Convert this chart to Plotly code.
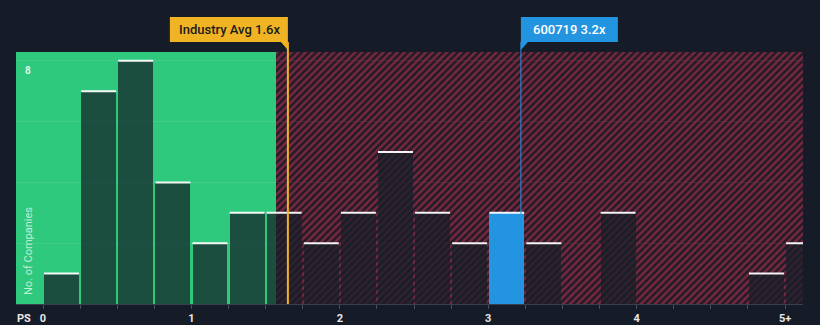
import plotly.graph_objects as go

# Price-to-sales histogram: bin left edges and number of companies per bin
bin_left = [0.0, 0.25, 0.5, 0.75, 1.0, 1.25, 1.5, 1.75, 2.0, 2.25, 2.5,
            2.75, 3.0, 3.25, 3.5, 3.75, 4.0, 4.25, 4.5, 4.75, 5.0]
counts = [1, 7, 8, 4, 2, 3, 3, 2, 3, 5, 3, 2, 3, 2, 0, 3, 0, 0, 0, 1, 2]
BIN_W = 0.25

tick_vals = [0, 1, 2, 3, 4, 5]
tick_text = ["0", "1", "2", "3", "4", "5+"]

INDUSTRY_AVG = 1.65      # industry average P/S
COMPANY = 3.22           # company P/S
COMPANY_NAME = "600719"
FAIR_EDGE = 1.57         # end of the green (below-average) zone

X_RANGE = [-0.182, 5.121]
Y_RANGE = [0, 8.29]

BG = "#161c27"
GREEN = "#2ec97d"
BAR = "rgba(22,30,40,0.72)"
BLUE = "#2394df"
GOLD = "#f0b323"

centers = [b + BIN_W / 2 for b in bin_left]
comp_bin = max(i for i, b in enumerate(bin_left) if b <= COMPANY)
bar_colors = [BLUE if i == comp_bin else BAR for i in range(len(counts))]

fig = go.Figure()

# hatched zone above the fair range, drawn as one wide background bar
hatch_right = X_RANGE[1] + 0.5
fig.add_trace(go.Bar(
    x=[(FAIR_EDGE + hatch_right) / 2], y=[Y_RANGE[1] + 1],
    width=[hatch_right - FAIR_EDGE],
    marker=dict(color="rgba(0,0,0,0)", line=dict(width=0),
                pattern=dict(shape="/", fgcolor="#77283f",
                             bgcolor="rgba(0,0,0,0)", size=5,
                             solidity=0.5, fillmode="replace")),
    hoverinfo="skip", showlegend=False,
))

fig.add_trace(go.Bar(
    x=centers, y=counts, width=BIN_W * 0.94,
    marker=dict(color=bar_colors, line=dict(width=0)),
    showlegend=False, hoverinfo="skip",
))

# white cap on each non-empty bar
cap_x = [c for c, n in zip(centers, counts) if n > 0]
cap_y = [n for n in counts if n > 0]
fig.add_trace(go.Scatter(
    x=cap_x, y=cap_y, mode="markers",
    marker=dict(symbol="line-ew", size=25,
                line=dict(color="rgba(255,255,255,0.95)", width=2)),
    showlegend=False, hoverinfo="skip",
))

shapes = [
    # green fair-value zone
    dict(type="rect", xref="x", yref="paper", x0=X_RANGE[0] - 0.2, x1=FAIR_EDGE,
         y0=0, y1=1, fillcolor=GREEN, line=dict(width=0), layer="below"),
    # industry average marker line
    dict(type="line", xref="x", x0=INDUSTRY_AVG, x1=INDUSTRY_AVG,
         yref="paper", ysizemode="pixel", yanchor=1, y0=-252, y1=10,
         line=dict(color=GOLD, width=2)),
    # company marker line
    dict(type="line", xref="x", x0=COMPANY, x1=COMPANY,
         yref="paper", ysizemode="pixel", yanchor=1, y0=-252, y1=10,
         line=dict(color=BLUE, width=1)),
    # label boxes with pointers
    dict(type="rect", xref="x", xsizemode="pixel", xanchor=INDUSTRY_AVG,
         x0=-118, x1=0, yref="paper", ysizemode="pixel", yanchor=1,
         y0=10, y1=35, fillcolor=GOLD, line=dict(width=0)),
    dict(type="path", xref="x", xsizemode="pixel", xanchor=INDUSTRY_AVG,
         yref="paper", ysizemode="pixel", yanchor=1,
         path="M -7,10 L 0,10 L 0,2 Z", fillcolor=GOLD, line=dict(width=0)),
    dict(type="rect", xref="x", xsizemode="pixel", xanchor=COMPANY,
         x0=0, x1=97, yref="paper", ysizemode="pixel", yanchor=1,
         y0=10, y1=35, fillcolor=BLUE, line=dict(width=0)),
    dict(type="path", xref="x", xsizemode="pixel", xanchor=COMPANY,
         yref="paper", ysizemode="pixel", yanchor=1,
         path="M 0,10 L 7,10 L 0,2 Z", fillcolor=BLUE, line=dict(width=0)),
]

annotations = [
    dict(text=f"Industry Avg {INDUSTRY_AVG:.1f}x", xref="x", x=INDUSTRY_AVG,
         xanchor="left", xshift=-111, yref="paper", y=1, yanchor="middle",
         yshift=22.5, showarrow=False,
         font=dict(family="Roboto", size=13, color="#1b1b1b", weight=500)),
    dict(text=f"{COMPANY_NAME} {COMPANY:.1f}x", xref="x", x=COMPANY,
         xanchor="left", xshift=10, yref="paper", y=1, yanchor="middle",
         yshift=22.5, showarrow=False,
         font=dict(family="Roboto", size=13, color="#ffffff", weight=500)),
    dict(text="8", xref="paper", x=0, xshift=12, xanchor="center",
         yref="y", y=8, yanchor="top", yshift=-2, showarrow=False,
         font=dict(family="Roboto", size=10, color="rgba(255,255,255,0.85)",
                   weight="bold")),
    dict(text="No. of Companies", xref="paper", x=0, xshift=12,
         xanchor="center", yref="paper", y=0.21, yanchor="middle",
         textangle=-90, showarrow=False,
         font=dict(family="Roboto", size=11, color="rgba(255,255,255,0.7)")),
    dict(text="PS", xref="paper", x=0, xshift=8, xanchor="center",
         yref="paper", y=0, yshift=-14, yanchor="middle", showarrow=False,
         font=dict(family="Roboto", size=11, color="#e8e8e8", weight="bold")),
]

fig.update_layout(
    width=820, height=325,
    margin=dict(l=16, r=17, t=52, b=21),
    paper_bgcolor=BG, plot_bgcolor="#211b27",
    barmode="overlay", bargap=0, shapes=shapes, annotations=annotations,
    xaxis=dict(range=X_RANGE, tickvals=tick_vals, ticktext=tick_text,
               automargin=False,
               showgrid=False, zeroline=False, showline=True,
               linecolor="#3a404d", linewidth=1,
               ticks="outside", ticklen=4, tickcolor="#4a5060",
               ticklabelstandoff=0,
               minor=dict(tick0=0, dtick=BIN_W, ticks="outside", ticklen=4,
                          tickcolor="#4a5060"),
               tickfont=dict(family="Roboto", size=11, color="#e8e8e8",
                             weight="bold")),
    yaxis=dict(range=Y_RANGE, dtick=2, showticklabels=False, automargin=False,
               gridcolor="rgba(255,255,255,0.09)", zeroline=False,
               showline=False),
)

fig.write_html("out.html")
